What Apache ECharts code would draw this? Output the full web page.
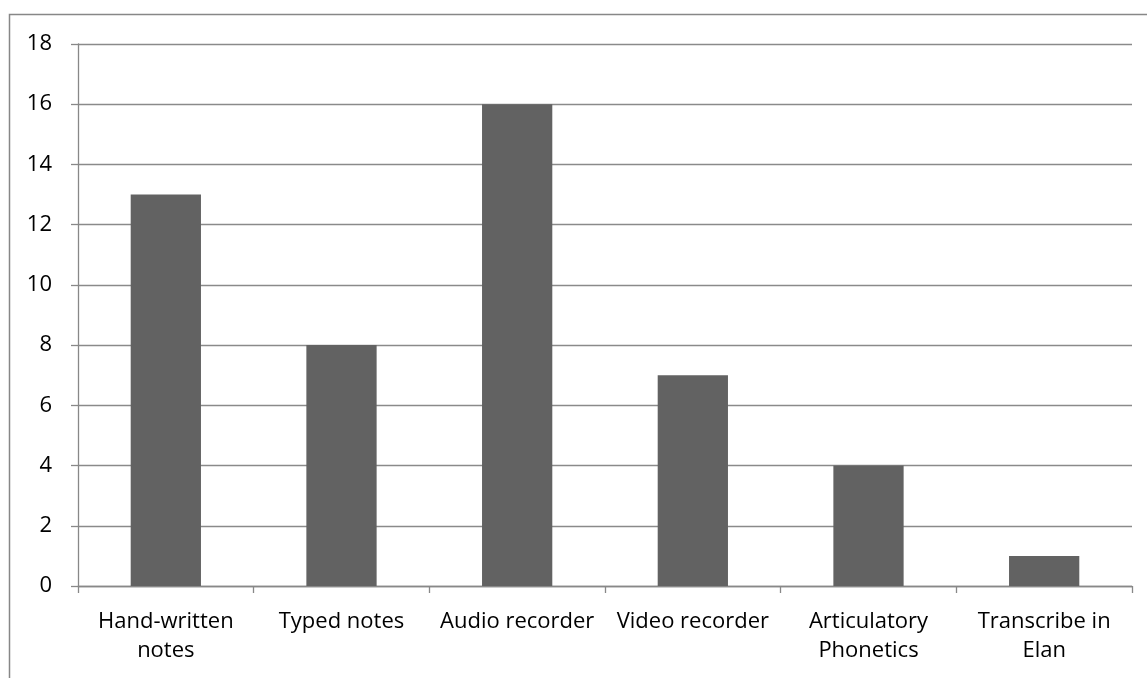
<!DOCTYPE html>
<html><head><meta charset="utf-8">
<script src="https://cdn.jsdelivr.net/npm/echarts@6/dist/echarts.min.js"></script>
<style>html,body{margin:0;padding:0;background:#fff}#c{width:1147px;height:678px}</style>
</head><body><div id="c"></div>
<script>
const categories = ['Hand-written\nnotes','Typed notes','Audio recorder','Video recorder','Articulatory\nPhonetics','Transcribe in\nElan'];
const values = [13, 8, 16, 7, 4, 1];
const yTicks = {min: 0, max: 18, interval: 2};

const chart = echarts.init(document.getElementById('c'));
chart.setOption({
  animation: false,
  backgroundColor: '#fff',
  graphic: [{type:'rect', shape:{x:9.5,y:14.5,width:1160,height:700}, style:{fill:'none',stroke:'#878787',lineWidth:1.5}, silent:true}],
  grid: {left: 78, right: 15, top: 44, bottom: 92, containLabel: false},
  xAxis: {
    type: 'category', data: categories,
    axisLine: {lineStyle: {color: '#888', width: 1.3}},
    axisTick: {show: true, length: 7, alignWithLabel: false, lineStyle: {color: '#888', width: 1.3}},
    axisLabel: {color: '#000', fontFamily: 'Open Sans', fontSize: 22, margin: 21, lineHeight: 29, interval: 0}
  },
  yAxis: {
    type: 'value', min: yTicks.min, max: yTicks.max, interval: yTicks.interval,
    axisLine: {show: true, lineStyle: {color: '#888', width: 1.3}},
    axisTick: {show: true, length: 7, lineStyle: {color: '#888', width: 1.3}},
    splitLine: {lineStyle: {color: '#8a8a8a', width: 1.3}},
    axisLabel: {color: '#000', fontFamily: 'Open Sans', fontSize: 22, margin: 26}
  },
  series: [{type: 'bar', data: values, barWidth: '40%', itemStyle: {color: '#626262'}}]
});
</script></body></html>
